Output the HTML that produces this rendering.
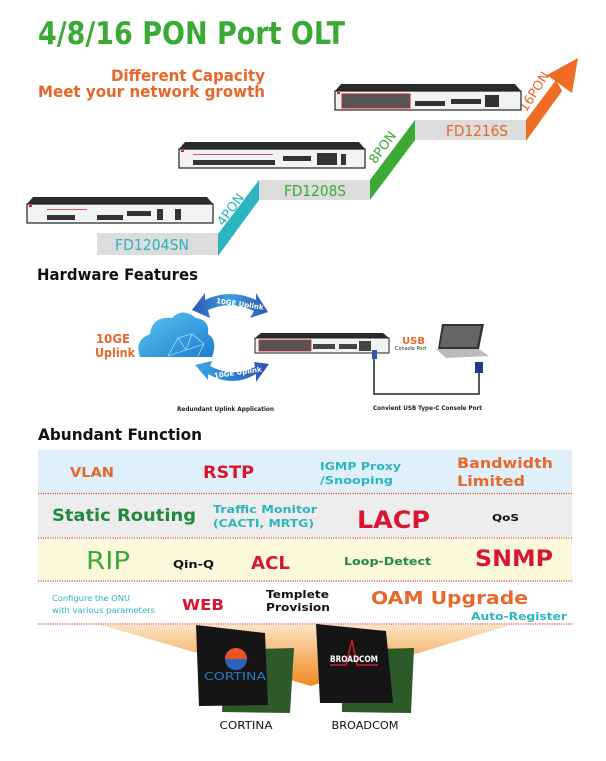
<!DOCTYPE html>
<html><head><meta charset="utf-8"><style>
html,body{margin:0;padding:0;background:#fff;width:606px;height:761px;overflow:hidden}
svg{display:block}
text{font-family:"DejaVu Sans","Liberation Sans",sans-serif;font-weight:bold}
</style></head><body>
<svg width="606" height="761" viewBox="0 0 606 761" xmlns="http://www.w3.org/2000/svg">
<defs>
<linearGradient id="fan" x1="0" y1="0" x2="0" y2="1">
<stop offset="0" stop-color="#fde3c4"/><stop offset="1" stop-color="#f08a1e"/></linearGradient>
<linearGradient id="cloud" x1="0" y1="0" x2="1" y2="1">
<stop offset="0" stop-color="#5cc4ef"/><stop offset="1" stop-color="#1b7fcf"/></linearGradient>
<linearGradient id="arr" x1="0" y1="0" x2="1" y2="0">
<stop offset="0" stop-color="#2e55b3"/><stop offset="0.5" stop-color="#3aa0df"/><stop offset="1" stop-color="#2e55b3"/></linearGradient>
<linearGradient id="arr2" x1="0" y1="0" x2="1" y2="0">
<stop offset="0" stop-color="#3aa8e3"/><stop offset="0.5" stop-color="#2f7fd0"/><stop offset="1" stop-color="#2d4fae"/></linearGradient>
<g id="dev">
<polygon points="6,0 180,0 186,7 0,7" fill="#2a2a2a"/>
<rect x="0" y="7" width="186" height="19" fill="#f1f3f5" stroke="#222" stroke-width="1.2"/>
<rect x="2" y="8" width="3" height="2" fill="#d22"/>
</g>
</defs>

<!-- Title -->
<text x="38" y="44" font-size="31" fill="#3aaa35" textLength="307" lengthAdjust="spacingAndGlyphs">4/8/16 PON Port OLT</text>
<text x="111" y="81" font-size="16" fill="#e8672a" textLength="154" lengthAdjust="spacingAndGlyphs">Different Capacity</text>
<text x="38" y="97" font-size="16" fill="#e8672a" textLength="227" lengthAdjust="spacingAndGlyphs">Meet your network growth</text>

<!-- steps -->
<rect x="97" y="233" width="121" height="22" fill="#dcdcdc"/>
<rect x="259" y="180" width="111" height="20" fill="#dcdcdc"/>
<rect x="415" y="120" width="111" height="20" fill="#dcdcdc"/>
<text x="115" y="250" font-size="15" font-weight="normal" style="font-weight:normal" fill="#2bb5c0" textLength="74" lengthAdjust="spacingAndGlyphs">FD1204SN</text>
<text x="284" y="196" font-size="15" style="font-weight:normal" fill="#3aaa35" textLength="62" lengthAdjust="spacingAndGlyphs">FD1208S</text>
<text x="446" y="136" font-size="15" style="font-weight:normal" fill="#e8672a" textLength="62" lengthAdjust="spacingAndGlyphs">FD1216S</text>
<polygon points="218,234 218,256 259,200 259,180" fill="#2bb5c0"/>
<polygon points="370,180 370,200 415,140 415,120" fill="#3aaa35"/>
<polygon points="526,120 526,141 562,91 556,80 " fill="#ef6d22"/>
<polygon points="547,75 578,58 572,93" fill="#ef6d22"/>
<text transform="translate(234,212) rotate(-54)" font-size="13" style="font-weight:normal" fill="#2bb5c0" text-anchor="middle">4PON</text>
<text transform="translate(386,150) rotate(-54)" font-size="13" style="font-weight:normal" fill="#3aaa35" text-anchor="middle">8PON</text>
<text transform="translate(538,94) rotate(-58)" font-size="13" style="font-weight:normal" fill="#e8672a" text-anchor="middle">16PON</text>

<!-- devices -->
<g transform="translate(27,197)"><use href="#dev"/>
<g fill="#333"><rect x="20" y="18" width="28" height="5"/><rect x="70" y="18" width="26" height="5"/><rect x="100" y="14" width="24" height="5"/><rect x="130" y="12" width="6" height="11"/><rect x="148" y="12" width="6" height="11"/></g>
<rect x="20" y="12" width="40" height="1" fill="#d55"/></g>
<g transform="translate(179,142)"><use href="#dev"/>
<g fill="#333"><rect x="14" y="18" width="82" height="5"/><rect x="104" y="14" width="28" height="5"/><rect x="138" y="11" width="20" height="12"/><rect x="162" y="12" width="5" height="11"/></g>
<rect x="14" y="12" width="80" height="1" fill="#d55"/></g>
<g transform="translate(335,84)"><use href="#dev"/>
<rect x="7" y="10" width="68" height="14" fill="#555" stroke="#c22" stroke-width="1"/>
<g fill="#333"><rect x="80" y="17" width="30" height="5"/><rect x="116" y="15" width="30" height="5"/><rect x="150" y="11" width="14" height="12"/></g></g>

<!-- Hardware Features -->
<text x="37" y="280" font-size="16" fill="#111" textLength="161" lengthAdjust="spacingAndGlyphs">Hardware Features</text>
<path d="M192,310 L205,293 L205,300 Q230,288 256,300 L256,293 L268,312 L250,318 L254,311 Q230,300 208,310 L210,318 Z" fill="url(#arr)"/>
<text x="216" y="305" font-size="7" fill="#fff" transform="rotate(8 230 303)">10GE Uplink</text>
<path d="M195,365 L208,380 L208,374 Q232,388 256,374 L256,382 L269,364 L254,362 L255,367 Q232,378 210,366 L212,361 Z" fill="url(#arr2)"/>
<text x="214" y="376" font-size="7" fill="#fff" transform="rotate(-8 230 374)">10GE Uplink</text>
<path d="M140,357 Q134,340 150,334 Q152,316 172,318 Q182,307 196,318 Q210,320 208,334 Q218,340 212,357 Z" fill="url(#cloud)"/>
<g stroke="#cdeefc" stroke-width="0.6" fill="none"><path d="M168,356 L178,338 L192,334 L204,344 L198,356 M178,338 L186,350 L204,344 M186,350 L168,356 M192,334 L186,350"/></g>
<text x="96" y="343" font-size="12" fill="#e8672a" textLength="34" lengthAdjust="spacingAndGlyphs">10GE</text>
<text x="95" y="357" font-size="12" fill="#e8672a" textLength="40" lengthAdjust="spacingAndGlyphs">Uplink</text>
<g transform="translate(255,333)">
<polygon points="6,0 128,0 134,5 0,5" fill="#2a2a2a"/>
<rect x="0" y="5" width="134" height="15" fill="#f1f3f5" stroke="#222"/>
<rect x="4" y="7" width="52" height="11" fill="#555" stroke="#c22" stroke-width="0.8"/>
<g fill="#444"><rect x="58" y="11" width="22" height="5"/><rect x="84" y="11" width="18" height="5"/><rect x="104" y="8" width="12" height="10"/></g></g>
<text x="402" y="344" font-size="10" fill="#e8672a">USB</text>
<text x="395" y="350" font-size="5" fill="#222" style="font-weight:normal">Console Port</text>
<polygon points="442,324 484,324 479,349 438,349" fill="#333"/>
<polygon points="444,326 481,326 477,347 440,347" fill="#666"/>
<polygon points="436,349 479,349 489,356 446,358" fill="#bbb"/>
<path d="M374,354 V394 H479 V367" stroke="#222" stroke-width="1.5" fill="none"/>
<rect x="372" y="350" width="5" height="9" fill="#2a5aa8"/>
<rect x="475" y="362" width="8" height="11" fill="#1d3f80"/>
<text x="177" y="411" font-size="6" fill="#222" textLength="97" lengthAdjust="spacingAndGlyphs">Redundant Uplink Application</text>
<text x="373" y="410" font-size="6" fill="#222" textLength="109" lengthAdjust="spacingAndGlyphs">Convient USB Type-C Console Port</text>

<!-- Abundant Function -->
<text x="38" y="440" font-size="16" fill="#111" textLength="164" lengthAdjust="spacingAndGlyphs">Abundant Function</text>
<rect x="38" y="450" width="534" height="43" fill="#dff0fa"/>
<rect x="38" y="494" width="534" height="43" fill="#ededed"/>
<rect x="38" y="539" width="534" height="41" fill="#fbf8dc"/>
<g stroke="#d24a2a" stroke-width="1.2" stroke-dasharray="1.2,1.2">
<line x1="38" y1="493.5" x2="572" y2="493.5"/><line x1="38" y1="538" x2="572" y2="538"/>
<line x1="38" y1="581" x2="572" y2="581"/><line x1="38" y1="624" x2="572" y2="624"/></g>
<polygon points="101,625 510,625 311,686" fill="url(#fan)"/>

<text x="70" y="477" font-size="13" fill="#e8672a" textLength="44" lengthAdjust="spacingAndGlyphs">VLAN</text>
<text x="203" y="478" font-size="17" fill="#d7172f" textLength="51" lengthAdjust="spacingAndGlyphs">RSTP</text>
<text x="320" y="470" font-size="11" fill="#2bb5c0" textLength="81" lengthAdjust="spacingAndGlyphs">IGMP Proxy</text>
<text x="320" y="484" font-size="11" fill="#2bb5c0" textLength="73" lengthAdjust="spacingAndGlyphs">/Snooping</text>
<text x="457" y="468" font-size="14" fill="#e8672a" textLength="96" lengthAdjust="spacingAndGlyphs">Bandwidth</text>
<text x="457" y="486" font-size="14" fill="#e8672a" textLength="68" lengthAdjust="spacingAndGlyphs">Limited</text>

<text x="52" y="521" font-size="17" fill="#1e8a3c" textLength="144" lengthAdjust="spacingAndGlyphs">Static Routing</text>
<text x="213" y="513" font-size="11" fill="#2bb5c0" textLength="104" lengthAdjust="spacingAndGlyphs">Traffic Monitor</text>
<text x="213" y="527" font-size="11" fill="#2bb5c0" textLength="101" lengthAdjust="spacingAndGlyphs">(CACTI, MRTG)</text>
<text x="357" y="528" font-size="24" fill="#d7172f" textLength="73" lengthAdjust="spacingAndGlyphs">LACP</text>
<text x="492" y="521" font-size="10" fill="#111" textLength="27" lengthAdjust="spacingAndGlyphs">QoS</text>

<text x="86" y="569" font-size="25" fill="#3aaa35" style="font-weight:normal" textLength="44" lengthAdjust="spacingAndGlyphs">RIP</text>
<text x="173" y="568" font-size="11" fill="#111" textLength="41" lengthAdjust="spacingAndGlyphs">Qin-Q</text>
<text x="251" y="569" font-size="18" fill="#d7172f" textLength="39" lengthAdjust="spacingAndGlyphs">ACL</text>
<text x="344" y="565" font-size="11" fill="#1e8a3c" textLength="87" lengthAdjust="spacingAndGlyphs">Loop-Detect</text>
<text x="475" y="566" font-size="22" fill="#d7172f" textLength="78" lengthAdjust="spacingAndGlyphs">SNMP</text>

<text x="52" y="601" font-size="8" fill="#2bb5c0" style="font-weight:normal" textLength="78" lengthAdjust="spacingAndGlyphs">Configure the ONU</text>
<text x="52" y="613" font-size="8" fill="#2bb5c0" style="font-weight:normal" textLength="103" lengthAdjust="spacingAndGlyphs">with various parameters</text>
<text x="182" y="610" font-size="15" fill="#d7172f" textLength="42" lengthAdjust="spacingAndGlyphs">WEB</text>
<text x="266" y="598" font-size="11" fill="#111" textLength="63" lengthAdjust="spacingAndGlyphs">Templete</text>
<text x="266" y="611" font-size="11" fill="#111" textLength="64" lengthAdjust="spacingAndGlyphs">Provision</text>
<text x="371" y="604" font-size="18" fill="#e8672a" textLength="157" lengthAdjust="spacingAndGlyphs">OAM Upgrade</text>
<text x="471" y="620" font-size="11" fill="#2bb5c0" textLength="96" lengthAdjust="spacingAndGlyphs">Auto-Register</text>

<!-- chips -->
<polygon points="224,650 294,648 290,713 222,712" fill="#2e5a2a"/>
<polygon points="196,625 265,633 268,705 199,706" fill="#151515"/>
<circle cx="236" cy="659" r="11" fill="#2a64c0"/><path d="M225,659 A11,11 0 0 1 247,659 Z" fill="#e8551e"/>
<text x="204" y="680" font-size="11" fill="#2a78c8" style="font-weight:normal" textLength="62" lengthAdjust="spacingAndGlyphs">CORTINA</text>
<polygon points="342,650 414,648 411,713 342,712" fill="#2e5a2a"/>
<polygon points="316,624 386,631 393,703 320,703" fill="#151515"/>
<path d="M330,665 L346,665 L352,640 L357,665 L378,665" stroke="#d7172f" stroke-width="1.5" fill="none"/>
<text x="330" y="662" font-size="9" fill="#fff" textLength="48" lengthAdjust="spacingAndGlyphs">BROADCOM</text>
<text x="246" y="729" font-size="11" fill="#111" style="font-weight:normal" text-anchor="middle" textLength="53" lengthAdjust="spacingAndGlyphs">CORTINA</text>
<text x="365" y="729" font-size="11" fill="#111" style="font-weight:normal" text-anchor="middle" textLength="67" lengthAdjust="spacingAndGlyphs">BROADCOM</text>
</svg>
</body></html>
